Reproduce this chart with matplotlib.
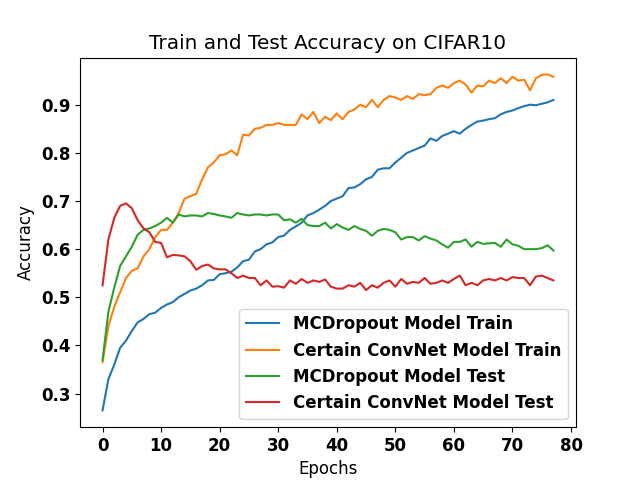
import numpy as np
import matplotlib
matplotlib.use("Agg")
import matplotlib.pyplot as plt

# accuracy per epoch
mcd_train = [0.265, 0.33, 0.36, 0.395, 0.41, 0.43, 0.448, 0.455, 0.465, 0.468,
             0.478, 0.485, 0.49, 0.5, 0.507, 0.514, 0.518, 0.525, 0.535, 0.536,
             0.548, 0.55, 0.553, 0.562, 0.575, 0.578, 0.595, 0.6, 0.61, 0.614,
             0.625, 0.628, 0.64, 0.647, 0.655, 0.67, 0.675, 0.682, 0.69, 0.70,
             0.705, 0.71, 0.727, 0.728, 0.735, 0.745, 0.75, 0.765, 0.768, 0.768,
             0.78, 0.79, 0.8, 0.805, 0.81, 0.815, 0.83, 0.825, 0.835, 0.84,
             0.845, 0.84, 0.85, 0.858, 0.865, 0.867, 0.87, 0.872, 0.88, 0.885,
             0.888, 0.893, 0.897, 0.90, 0.899, 0.902, 0.905, 0.91]
cert_train = [0.365, 0.44, 0.48, 0.51, 0.54, 0.555, 0.56, 0.585, 0.6, 0.625,
              0.64, 0.64, 0.655, 0.675, 0.705, 0.71, 0.715, 0.745, 0.77, 0.78,
              0.795, 0.797, 0.805, 0.795, 0.838, 0.836, 0.85, 0.852, 0.858, 0.858,
              0.862, 0.858, 0.858, 0.858, 0.88, 0.87, 0.885, 0.862, 0.875, 0.868,
              0.882, 0.87, 0.885, 0.89, 0.9, 0.895, 0.91, 0.895, 0.91, 0.918,
              0.915, 0.91, 0.918, 0.912, 0.922, 0.92, 0.922, 0.935, 0.94, 0.935,
              0.945, 0.95, 0.942, 0.925, 0.94, 0.938, 0.95, 0.945, 0.955, 0.945,
              0.958, 0.95, 0.952, 0.93, 0.955, 0.962, 0.963, 0.958]
mcd_test = [0.37, 0.47, 0.52, 0.565, 0.585, 0.605, 0.63, 0.64, 0.643, 0.648,
            0.655, 0.665, 0.655, 0.672, 0.668, 0.67, 0.67, 0.668, 0.675, 0.673,
            0.67, 0.668, 0.665, 0.675, 0.672, 0.67, 0.672, 0.672, 0.67, 0.672,
            0.672, 0.66, 0.662, 0.655, 0.663, 0.65, 0.648, 0.648, 0.655, 0.643,
            0.652, 0.645, 0.64, 0.648, 0.642, 0.638, 0.628, 0.638, 0.642, 0.64,
            0.635, 0.62, 0.625, 0.625, 0.618, 0.627, 0.622, 0.618, 0.61, 0.603,
            0.615, 0.615, 0.62, 0.605, 0.615, 0.611, 0.612, 0.613, 0.605, 0.62,
            0.61, 0.607, 0.6, 0.6, 0.6, 0.602, 0.608, 0.597]
cert_test = [0.525, 0.62, 0.665, 0.69, 0.695, 0.685, 0.66, 0.643, 0.635, 0.615,
             0.613, 0.583, 0.588, 0.587, 0.585, 0.575, 0.557, 0.565, 0.568, 0.56,
             0.558, 0.558, 0.55, 0.54, 0.545, 0.54, 0.54, 0.525, 0.535, 0.522,
             0.523, 0.52, 0.535, 0.528, 0.538, 0.53, 0.535, 0.532, 0.537, 0.522,
             0.518, 0.518, 0.525, 0.522, 0.53, 0.515, 0.525, 0.52, 0.53, 0.535,
             0.522, 0.538, 0.528, 0.532, 0.53, 0.54, 0.528, 0.53, 0.535, 0.53,
             0.538, 0.545, 0.525, 0.53, 0.525, 0.535, 0.538, 0.535, 0.54, 0.535,
             0.542, 0.54, 0.54, 0.525, 0.543, 0.545, 0.54, 0.535]
labels = ["MCDropout Model Train", "Certain ConvNet Model Train",
          "MCDropout Model Test", "Certain ConvNet Model Test"]

epochs = np.arange(len(mcd_train))

fig, ax = plt.subplots(figsize=(6.4, 4.8), dpi=100)
for series, lab in zip([mcd_train, cert_train, mcd_test, cert_test], labels):
    ax.plot(epochs, series, label=lab)

ax.set_title("Train and Test Accuracy on CIFAR10", fontsize="x-large")
ax.set_xlabel("Epochs", fontsize=12)
ax.set_ylabel("Accuracy", fontsize=12)
ax.set_xticks(np.arange(0, 81, 10))
for t in ax.get_xticklabels() + ax.get_yticklabels():
    t.set_fontsize(12)
    t.set_fontweight("bold")
ax.legend(loc="lower right", prop={"weight": "bold", "size": 12})

plt.savefig("out.png")
